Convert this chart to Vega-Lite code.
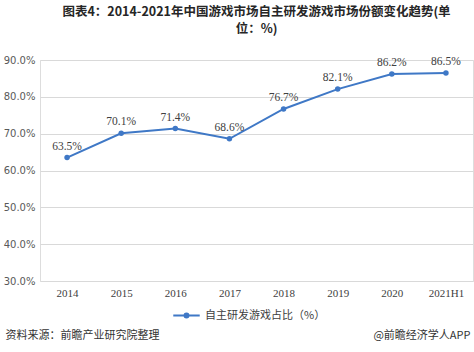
{
  "$schema": "https://vega.github.io/schema/vega-lite/v6.json",
  "width": 433,
  "height": 221,
  "autosize": "none",
  "padding": {"left": 40, "top": 60, "right": 1, "bottom": 71},
  "background": "white",
  "title": {
    "text": ["图表4：2014-2021年中国游戏市场自主研发游戏市场份额变化趋势(单", "位：%)"],
    "anchor": "middle",
    "frame": "group",
    "font": "Noto Sans CJK SC",
    "fontSize": 12.5,
    "fontWeight": "bold",
    "color": "#262626",
    "lineHeight": 17,
    "offset": 20
  },
  "data": {
    "values": [
      {"year": "2014", "value": 0.635, "series": "自主研发游戏占比（%）"},
      {"year": "2015", "value": 0.701, "series": "自主研发游戏占比（%）"},
      {"year": "2016", "value": 0.714, "series": "自主研发游戏占比（%）"},
      {"year": "2017", "value": 0.686, "series": "自主研发游戏占比（%）"},
      {"year": "2018", "value": 0.767, "series": "自主研发游戏占比（%）"},
      {"year": "2019", "value": 0.821, "series": "自主研发游戏占比（%）"},
      {"year": "2020", "value": 0.862, "series": "自主研发游戏占比（%）"},
      {"year": "2021H1", "value": 0.865, "series": "自主研发游戏占比（%）"}
    ]
  },
  "encoding": {
    "x": {
      "field": "year",
      "type": "nominal",
      "sort": null,
      "scale": {"type": "point", "padding": 0.5},
      "axis": {
        "labelAngle": 0,
        "labelFont": "Liberation Serif",
        "labelFontSize": 11,
        "labelColor": "#404040",
        "labelPadding": 6,
        "ticks": false,
        "domain": false,
        "grid": false,
        "title": "资料来源：前瞻产业研究院整理",
        "titleFont": "Noto Sans CJK SC",
        "titleFontSize": 11,
        "titleFontWeight": "normal",
        "titleColor": "#333333",
        "titleAnchor": "start",
        "titleAlign": "left",
        "titleBaseline": "middle",
        "titleX": -35,
        "titleY": 54
      }
    },
    "y": {
      "field": "value",
      "type": "quantitative",
      "scale": {"domain": [0.3, 0.9], "nice": false, "zero": false},
      "axis": {
        "values": [0.3, 0.4, 0.5, 0.6, 0.7, 0.8, 0.9],
        "format": ".1%",
        "labelFont": "DejaVu Sans",
        "labelFontSize": 10,
        "labelColor": "#595959",
        "labelPadding": 5,
        "ticks": false,
        "domain": false,
        "gridColor": "#d9d9d9",
        "title": "@前瞻经济学人APP",
        "titleFont": "Noto Sans CJK SC",
        "titleFontSize": 11,
        "titleFontWeight": "normal",
        "titleColor": "#333333",
        "titleAngle": 0,
        "titleAlign": "right",
        "titleBaseline": "middle",
        "titleX": 430,
        "titleY": 275
      }
    }
  },
  "layer": [
    {
      "mark": {"type": "line", "strokeWidth": 2, "point": {"filled": true, "size": 30}},
      "encoding": {
        "color": {
          "field": "series",
          "type": "nominal",
          "scale": {"range": ["#3f78c6"]},
          "legend": {
            "orient": "none",
            "legendX": 132,
            "legendY": 241,
            "title": null,
            "labelFont": "Noto Sans CJK SC",
            "labelFontSize": 11,
            "labelColor": "#404040",
            "symbolType": "M-1,0H1M-0.15,0A0.15,0.15,0,1,0,0.15,0A0.15,0.15,0,1,0,-0.15,0Z",
            "symbolSize": 700,
            "symbolStrokeWidth": 2,
            "symbolFillColor": "#3f78c6",
            "symbolStrokeColor": "#3f78c6"
          }
        }
      }
    },
    {
      "mark": {"type": "text", "baseline": "bottom", "dy": -6, "font": "Liberation Serif", "fontSize": 11.5, "color": "#404040"},
      "encoding": {
        "text": {"field": "value", "type": "quantitative", "format": ".1%"}
      }
    }
  ]
}
